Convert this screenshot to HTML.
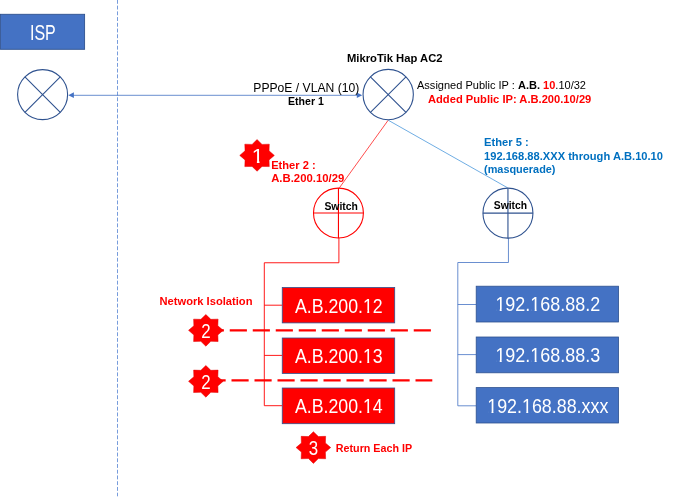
<!DOCTYPE html>
<html lang="en"><head><meta charset="utf-8"><title>Network diagram</title>
<style>html,body{margin:0;padding:0;background:#fff;overflow:hidden}svg{display:block;will-change:transform}text{font-family:"Liberation Sans","Noto Sans CJK KR",sans-serif}</style></head><body>
<svg width="676" height="499" viewBox="0 0 676 499">
<rect width="676" height="499" fill="#fff"/>
<line x1="117.5" y1="-0.1" x2="117.5" y2="496.3" stroke="#4a7bd0" stroke-width="0.75" stroke-dasharray="3.9 1.83"/>
<rect x="0.4" y="14.3" width="84.2" height="35" fill="#4472c4" stroke="#2f528f" stroke-width="0.9"/>
<text x="42.90" y="39.60" font-size="21.70" font-weight="normal" fill="#fff" text-anchor="middle" textLength="25.80" lengthAdjust="spacingAndGlyphs">ISP</text>
<line x1="72" y1="95.3" x2="358" y2="95.3" stroke="#4472c4" stroke-width="0.8"/>
<polygon points="68.3,95.15 73.9,92.3 73.9,98" fill="#4472c4"/>
<polygon points="362.2,95.15 356.8,92.4 356.8,97.9" fill="#4472c4"/>
<line x1="388.2" y1="120.2" x2="339.4" y2="187.8" stroke="#ff0000" stroke-width="0.7"/>
<line x1="388.2" y1="120.2" x2="507.6" y2="187.8" stroke="#4a98dc" stroke-width="0.8"/>
<circle cx="42.60" cy="94.60" r="25.00" fill="#fff" stroke="#2f528f" stroke-width="1.10"/><path d="M24.92 76.92L60.28 112.28M60.28 76.92L24.92 112.28" stroke="#2f528f" stroke-width="1.10" fill="none"/>
<circle cx="388.20" cy="94.55" r="25.15" fill="#fff" stroke="#2f528f" stroke-width="1.10"/><path d="M370.42 76.77L405.98 112.33M405.98 76.77L370.42 112.33" stroke="#2f528f" stroke-width="1.10" fill="none"/>
<path d="M338.9 238V262.75H264.3V405.7H282M264.3 305.2H282M264.3 355.4H282" stroke="#ff0000" stroke-width="0.9" fill="none"/>
<path d="M508.45 238V262.5H457.8V405.8H476M457.8 304.5H476M457.8 354.6H476" stroke="#4472c4" stroke-width="0.8" fill="none"/>
<circle cx="338.45" cy="213.05" r="24.95" fill="#fff" stroke="#ff0000" stroke-width="1.10"/><path d="M313.50 213.05L363.40 213.05M338.45 188.10L338.45 238.00" stroke="#ff0000" stroke-width="1.10" fill="none"/>
<circle cx="507.95" cy="213.15" r="25.00" fill="#fff" stroke="#2f528f" stroke-width="1.10"/><path d="M482.95 213.15L532.95 213.15M507.95 188.15L507.95 238.15" stroke="#2f528f" stroke-width="1.10" fill="none"/>
<text x="341.20" y="209.50" font-size="11.00" font-weight="bold" fill="#000" text-anchor="middle" textLength="33.50" lengthAdjust="spacingAndGlyphs">Switch</text>
<text x="510.40" y="208.80" font-size="11.00" font-weight="bold" fill="#000" text-anchor="middle" textLength="33.30" lengthAdjust="spacingAndGlyphs">Switch</text>
<text x="253.30" y="92.40" font-size="13.20" font-weight="normal" fill="#000" text-anchor="start" textLength="106.00" lengthAdjust="spacingAndGlyphs">PPPoE / VLAN (10)</text>
<text x="288.00" y="105.30" font-size="11.10" font-weight="bold" fill="#000" text-anchor="start" textLength="35.80" lengthAdjust="spacingAndGlyphs">Ether 1</text>
<text x="347.00" y="62.00" font-size="11.70" font-weight="bold" fill="#000" text-anchor="start" textLength="95.50" lengthAdjust="spacingAndGlyphs">MikroTik Hap AC2</text>
<text x="417" y="88.8" font-size="11.7" textLength="169" lengthAdjust="spacingAndGlyphs">Assigned Public IP : <tspan font-weight="bold">A.B. </tspan><tspan fill="#ff0000" font-weight="bold">10</tspan>.10/32</text>
<text x="428.00" y="102.50" font-size="11.30" font-weight="bold" fill="#ff0000" text-anchor="start" textLength="163.30" lengthAdjust="spacingAndGlyphs">Added Public IP: A.B.200.10/29</text>
<text x="484.00" y="146.10" font-size="11.30" font-weight="bold" fill="#0070c0" text-anchor="start" textLength="44.70" lengthAdjust="spacingAndGlyphs">Ether 5 :</text>
<text x="484.00" y="159.50" font-size="11.30" font-weight="bold" fill="#0070c0" text-anchor="start" textLength="179.00" lengthAdjust="spacingAndGlyphs">192.168.88.XXX through A.B.10.10</text>
<text x="484.00" y="172.50" font-size="11.30" font-weight="bold" fill="#0070c0" text-anchor="start" textLength="71.50" lengthAdjust="spacingAndGlyphs">(masquerade)</text>
<text x="271.20" y="168.90" font-size="11.30" font-weight="bold" fill="#ff0000" text-anchor="start" textLength="44.40" lengthAdjust="spacingAndGlyphs">Ether 2 :</text>
<text x="271.20" y="181.70" font-size="11.30" font-weight="bold" fill="#ff0000" text-anchor="start" textLength="73.10" lengthAdjust="spacingAndGlyphs">A.B.200.10/29</text>
<text x="159.50" y="304.80" font-size="11.30" font-weight="bold" fill="#ff0000" text-anchor="start" textLength="93.00" lengthAdjust="spacingAndGlyphs">Network Isolation</text>
<text x="335.80" y="452.00" font-size="11.30" font-weight="bold" fill="#ff0000" text-anchor="start" textLength="76.30" lengthAdjust="spacingAndGlyphs">Return Each IP</text>
<line x1="206.75" y1="330.35" x2="430.9" y2="330.35" stroke="#ff0000" stroke-width="2.2" stroke-dasharray="17.15 5.85"/>
<line x1="208.5" y1="380.45" x2="432.3" y2="380.45" stroke="#ff0000" stroke-width="2.2" stroke-dasharray="17.15 5.85"/>
<rect x="282.25" y="287.50" width="112.45" height="35.40" fill="#ff0000" stroke="#2f528f" stroke-width="0.8"/>
<text x="338.85" y="312.50" font-size="21.00" font-weight="normal" fill="#fff" text-anchor="middle" textLength="87.80" lengthAdjust="spacingAndGlyphs" id="rt0">A.B.200.12</text>
<rect x="282.25" y="338.00" width="112.45" height="35.40" fill="#ff0000" stroke="#2f528f" stroke-width="0.8"/>
<text x="338.85" y="363.00" font-size="21.00" font-weight="normal" fill="#fff" text-anchor="middle" textLength="87.80" lengthAdjust="spacingAndGlyphs" id="rt1">A.B.200.13</text>
<rect x="282.25" y="388.00" width="112.45" height="35.70" fill="#ff0000" stroke="#2f528f" stroke-width="0.8"/>
<text x="338.85" y="413.00" font-size="21.00" font-weight="normal" fill="#fff" text-anchor="middle" textLength="87.80" lengthAdjust="spacingAndGlyphs" id="rt2">A.B.200.14</text>
<rect x="476.2" y="286.20" width="142.4" height="35.80" fill="#4472c4" stroke="#2f528f" stroke-width="0.8"/>
<text x="547.80" y="311.30" font-size="20.90" font-weight="normal" fill="#fff" text-anchor="middle" textLength="104.80" lengthAdjust="spacingAndGlyphs" id="bt0">192.168.88.2</text>
<rect x="476.2" y="337.00" width="142.4" height="35.80" fill="#4472c4" stroke="#2f528f" stroke-width="0.8"/>
<text x="547.80" y="362.10" font-size="20.90" font-weight="normal" fill="#fff" text-anchor="middle" textLength="104.80" lengthAdjust="spacingAndGlyphs" id="bt1">192.168.88.3</text>
<rect x="476.2" y="387.60" width="142.4" height="35.40" fill="#4472c4" stroke="#2f528f" stroke-width="0.8"/>
<text x="547.80" y="412.70" font-size="20.90" font-weight="normal" fill="#fff" text-anchor="middle" textLength="121.20" lengthAdjust="spacingAndGlyphs" id="bt2">192.168.88.xxx</text>
<polygon points="274.35,155.40 269.04,150.85 269.28,144.19 262.02,144.42 257.05,139.55 252.08,144.42 244.82,144.19 245.06,150.85 239.75,155.40 245.06,159.95 244.82,166.61 252.08,166.38 257.05,171.25 262.02,166.38 269.28,166.61 269.04,159.95" fill="#ff0000" stroke="#e00000" stroke-width="0.5"/>
<clipPath id="one"><path d="M240 138H275V160.70H259.5V163.70H256.9V160.70H240Z"/></clipPath>
<text x="257.77" y="162.70" font-size="19.60" font-weight="normal" fill="#fff" text-anchor="middle" textLength="11.90" lengthAdjust="spacingAndGlyphs" clip-path="url(#one)">1</text>
<polygon points="223.15,330.35 217.84,325.80 218.08,319.14 210.82,319.37 205.85,314.50 200.88,319.37 193.62,319.14 193.86,325.80 188.55,330.35 193.86,334.90 193.62,341.56 200.88,341.33 205.85,346.20 210.82,341.33 218.08,341.56 217.84,334.90" fill="#ff0000" stroke="#e00000" stroke-width="0.5"/>
<text x="205.85" y="337.85" font-size="19.60" font-weight="normal" fill="#fff" text-anchor="middle" textLength="9.40" lengthAdjust="spacingAndGlyphs">2</text>
<polygon points="223.15,381.33 217.84,376.78 218.08,370.12 210.82,370.35 205.85,365.48 200.88,370.35 193.62,370.12 193.86,376.78 188.55,381.33 193.86,385.88 193.62,392.54 200.88,392.31 205.85,397.18 210.82,392.31 218.08,392.54 217.84,385.88" fill="#ff0000" stroke="#e00000" stroke-width="0.5"/>
<text x="205.85" y="388.83" font-size="19.60" font-weight="normal" fill="#fff" text-anchor="middle" textLength="9.40" lengthAdjust="spacingAndGlyphs">2</text>
<polygon points="330.70,447.55 325.39,443.00 325.63,436.34 318.37,436.57 313.40,431.70 308.43,436.57 301.17,436.34 301.41,443.00 296.10,447.55 301.41,452.10 301.17,458.76 308.43,458.53 313.40,463.40 318.37,458.53 325.63,458.76 325.39,452.10" fill="#ff0000" stroke="#e00000" stroke-width="0.5"/>
<text x="313.40" y="455.05" font-size="19.60" font-weight="normal" fill="#fff" text-anchor="middle" textLength="9.40" lengthAdjust="spacingAndGlyphs">3</text>
<rect x="363.89" y="310.00" width="3.37" height="3.30" fill="#ff0000"/>
<rect x="369.22" y="310.00" width="3.37" height="3.30" fill="#ff0000"/>
<rect x="363.89" y="361.00" width="3.37" height="2.80" fill="#ff0000"/>
<rect x="369.22" y="361.00" width="3.37" height="2.80" fill="#ff0000"/>
<rect x="363.89" y="411.00" width="3.37" height="2.80" fill="#ff0000"/>
<rect x="369.22" y="411.00" width="3.37" height="2.80" fill="#ff0000"/>
<rect x="496.30" y="309.00" width="3.41" height="3.10" fill="#4472c4"/>
<rect x="501.69" y="309.00" width="3.41" height="3.10" fill="#4472c4"/>
<rect x="531.23" y="309.00" width="3.41" height="3.10" fill="#4472c4"/>
<rect x="536.62" y="309.00" width="3.41" height="3.10" fill="#4472c4"/>
<rect x="496.30" y="360.00" width="3.41" height="2.90" fill="#4472c4"/>
<rect x="501.69" y="360.00" width="3.41" height="2.90" fill="#4472c4"/>
<rect x="531.23" y="360.00" width="3.41" height="2.90" fill="#4472c4"/>
<rect x="536.62" y="360.00" width="3.41" height="2.90" fill="#4472c4"/>
<rect x="488.09" y="411.00" width="3.40" height="2.50" fill="#4472c4"/>
<rect x="493.46" y="411.00" width="3.40" height="2.50" fill="#4472c4"/>
<rect x="522.87" y="411.00" width="3.40" height="2.50" fill="#4472c4"/>
<rect x="528.23" y="411.00" width="3.40" height="2.50" fill="#4472c4"/>
</svg></body></html>
